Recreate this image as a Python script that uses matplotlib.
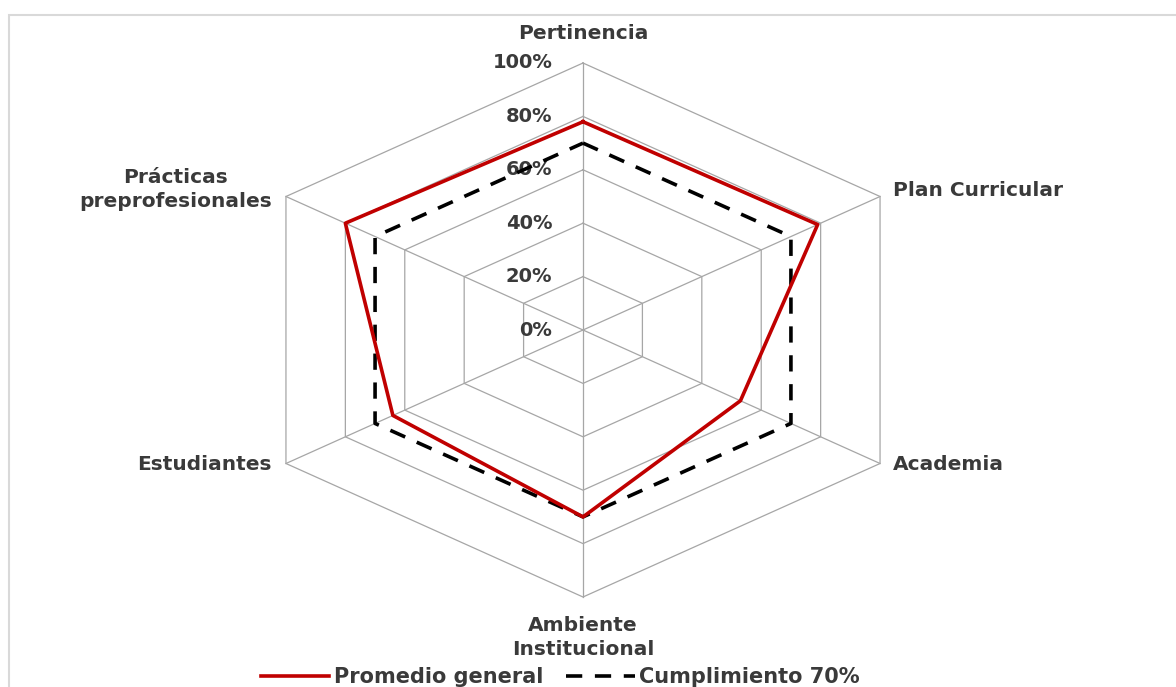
import numpy as np
import matplotlib
matplotlib.use("Agg")
import matplotlib.pyplot as plt
from matplotlib.patches import Rectangle

# datos
categorias = ["Pertinencia", "Plan Curricular", "Academia", "Ambiente\nInstitucional",
              "Estudiantes", "Prácticas\npreprofesionales"]
promedio_general = [0.78, 0.79, 0.53, 0.70, 0.64, 0.80]
cumplimiento = [0.70, 0.70, 0.70, 0.70, 0.70, 0.70]
niveles = [0.0, 0.2, 0.4, 0.6, 0.8, 1.0]
etiquetas_niveles = ["0%", "20%", "40%", "60%", "80%", "100%"]

plt.rcParams["font.family"] = ["DejaVu Sans"]
txt_color = "#3a3a3a"

W, H = 1176, 687
cx, cy = 583, 330          # centro en pixeles (desde arriba)
rx, ry = 343, 267          # radio horizontal / vertical en pixeles

fig = plt.figure(figsize=(W / 100, H / 100), dpi=100)
ax = fig.add_axes([0, 0, 1, 1])
ax.set_xlim(-cx / rx, (W - cx) / rx)
ax.set_ylim(-(H - cy) / ry, cy / ry)
ax.axis("off")

n = len(categorias)
ang = np.pi / 2 - np.arange(n) * 2 * np.pi / n
ux, uy = np.cos(ang), np.sin(ang)

# rejilla hexagonal
for r in niveles[1:]:
    ax.plot(np.append(r * ux, r * ux[0]), np.append(r * uy, r * uy[0]),
            color="#a6a6a6", lw=0.9, zorder=1)
for i in range(n):
    ax.plot([0, ux[i]], [0, uy[i]], color="#a6a6a6", lw=0.9, zorder=1)

# etiquetas de niveles
for r, lab in zip(niveles, etiquetas_niveles):
    ax.annotate(lab, xy=(0, r), xytext=(-22, 0), textcoords="offset points",
                ha="right", va="center", fontsize=14, fontweight="bold", color=txt_color)

# series
p = np.array(promedio_general + promedio_general[:1])
c = np.array(cumplimiento + cumplimiento[:1])
uxc, uyc = np.append(ux, ux[0]), np.append(uy, uy[0])
ax.plot(c * uxc, c * uyc, color="black", lw=2.6, dashes=(4.5, 3.5),
        label="Cumplimiento 70%", zorder=3)
ax.plot(p * uxc, p * uyc, color="#c00000", lw=2.6, label="Promedio general", zorder=4)

# etiquetas de categorias
offs = [(0, 21, "center", "center"), (9, 4, "left", "center"), (9, -1, "left", "center"),
        (0, -29, "center", "center"), (-10, -1, "right", "center"), (-10, 5, "right", "center")]
for i, lab in enumerate(categorias):
    dx, dy, ha, va = offs[i]
    ax.annotate(lab, xy=(ux[i], uy[i]), xytext=(dx, dy), textcoords="offset points",
                ha=ha, va=va, multialignment="center", fontsize=14.5,
                fontweight="bold", color=txt_color, linespacing=1.3)

# leyenda
h, l = ax.get_legend_handles_labels()
fig.legend([h[1], h[0]], [l[1], l[0]], loc="center", ncol=2,
           bbox_to_anchor=(560 / W, 1 - 677 / H), frameon=False,
           handlelength=3.3, handletextpad=0.2, columnspacing=1.1,
           labelcolor=txt_color, prop={"weight": "bold", "size": 15})

# borde gris claro
fig.add_artist(Rectangle((9 / W, -0.2), 1.2, 1.2 - 15 / H, transform=fig.transFigure,
                         fill=False, edgecolor="#d9d9d9", lw=1.5))

fig.savefig("out.png", dpi=100, facecolor="white")
